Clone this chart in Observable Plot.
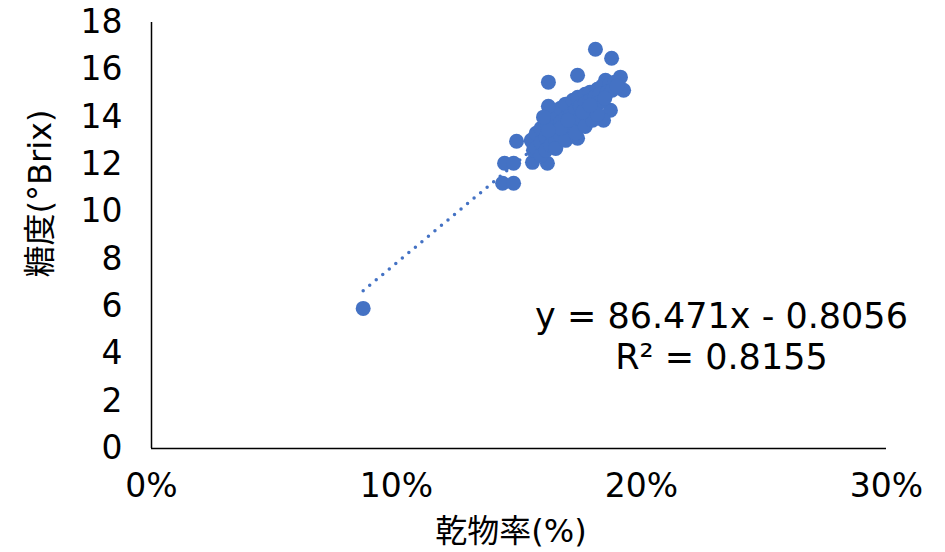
<!DOCTYPE html>
<html><head><meta charset="utf-8">
<script src="https://cdn.jsdelivr.net/npm/d3@7"></script>
<script src="https://cdn.jsdelivr.net/npm/@observablehq/plot@0.6"></script>
<style>
html,body{margin:0;padding:0;background:#fff;}
</style>
</head><body><div id="chart"></div>
<script>
// 乾物率 (fraction) values
const dryMatter = [
  0.0864,0.1812,0.1878,0.1620,0.1739,0.1914,0.1927,0.1853,0.1873,0.1845,
  0.1490,0.1441,0.1478,0.1433,0.1478,0.1555,0.1616,0.1739,0.1555,0.1559,
  0.155,0.157,0.159,0.161,0.163,0.165,0.167,0.169,0.172,0.174,0.177,0.179,0.182,0.184,0.187,0.189,
  0.157,0.159,0.161,0.163,0.165,0.167,0.169,0.171,0.173,0.175,0.177,0.179,0.181,0.183,0.186,0.188,0.190,
  0.159,0.161,0.163,0.165,0.167,0.169,0.171,0.173,0.175,0.177,0.179,0.181,0.183,0.185,
  0.165,0.169,0.173,0.177,0.180,0.182,
  0.167,0.170,0.162,0.176,0.179,0.162,0.160
];
// 糖度 (°Brix) values
const brix = [
  5.92,16.87,16.49,15.48,15.77,15.69,15.14,15.56,14.29,13.87,
  12.98,12.05,12.05,11.21,11.21,12.09,12.05,13.11,12.94,12.60,
  13.02,13.32,13.53,13.78,13.95,14.16,14.38,14.55,14.71,14.84,14.97,15.05,15.18,15.31,15.39,15.48,
  12.68,12.94,13.15,13.36,13.57,13.78,13.95,14.12,14.29,14.46,14.59,14.71,14.84,14.97,15.05,15.14,15.31,
  12.39,12.60,12.81,13.02,13.23,13.45,13.61,13.78,13.95,14.12,14.29,14.46,14.63,14.80,
  12.68,13.02,13.32,13.61,13.87,14.12,
  13.53,13.87,13.45,14.21,14.50,14.46,14.00
];
const xTicks = [0, 0.1, 0.2, 0.3];
const yTicks = [0, 2, 4, 6, 8, 10, 12, 14, 16, 18];
const trendSlope = 86.471;
const trendIntercept = -0.8056;
const eqLine1 = "y = 86.471x - 0.8056";
const eqLine2 = "R² = 0.8155";
const xLabel = "乾物率(%)";
const yLabel = "糖度(°Brix)";

const points = dryMatter.map((d, i) => ({x: d, y: brix[i]}));
const xMin = d3.min(dryMatter), xMax = d3.max(dryMatter);
const trend = [xMin, xMax].map(x => ({x, y: trendSlope * x + trendIntercept}));

const blue = "#4472C4";
const font = "'DejaVu Sans', 'Noto Sans CJK JP', sans-serif";

const chart = Plot.plot({
  width: 945,
  height: 552,
  marginLeft: 151,
  marginRight: 59,
  marginTop: 22,
  marginBottom: 104,
  style: {fontFamily: font, fontSize: "33px", color: "#000", background: "#fff"},
  x: {domain: [0, 0.3], label: null},
  y: {domain: [0, 18], label: null},
  marks: [
    Plot.axisX({ticks: xTicks, tickFormat: d => Math.round(d * 100) + "%", tickSize: 0, tickPadding: 25, fontSize: 33, label: null}),
    Plot.axisY({ticks: yTicks, tickSize: 0, tickPadding: 29, fontSize: 33, label: null}),
    Plot.ruleY([0], {stroke: "#000", strokeWidth: 1.5}),
    Plot.ruleX([0], {stroke: "#000", strokeWidth: 1.5}),
    Plot.line(trend, {x: "x", y: "y", stroke: blue, strokeWidth: 3.5, strokeDasharray: "0 8.5", strokeLinecap: "round"}),
    Plot.dot(points, {x: "x", y: "y", r: 7.5, fill: blue, stroke: "none"}),
    Plot.text([eqLine1], {frameAnchor: "top-left", dx: 570, dy: 294, textAnchor: "middle", lineAnchor: "middle", fontSize: 35, fill: "#000"}),
    Plot.text([eqLine2], {frameAnchor: "top-left", dx: 570, dy: 335, textAnchor: "middle", lineAnchor: "middle", fontSize: 35, fill: "#000"}),
    Plot.text([xLabel], {frameAnchor: "bottom", dy: 83, dx: -8, textAnchor: "middle", lineAnchor: "middle", fontSize: 32, fill: "#000"}),
    Plot.text([yLabel], {frameAnchor: "left", rotate: -90, dx: -111, dy: -42, textAnchor: "middle", lineAnchor: "middle", fontSize: 32, fill: "#000"})
  ]
});
document.getElementById("chart").appendChild(chart);
</script>
</body></html>
